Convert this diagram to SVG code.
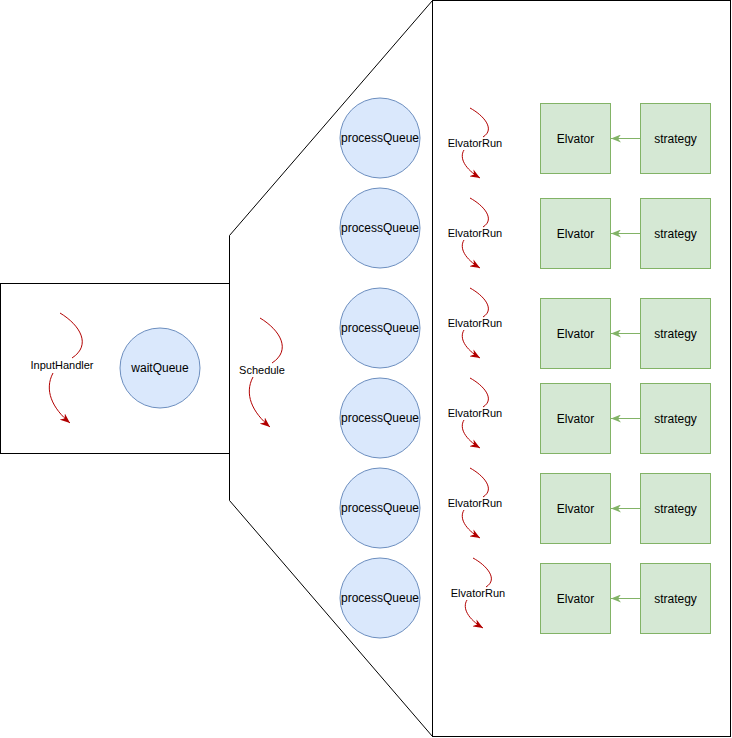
<svg xmlns="http://www.w3.org/2000/svg" width="732" height="738" viewBox="0 0 732 738">
<style>
.frame{fill:#ffffff;stroke:#000000;stroke-width:1}
.q{fill:#dae8fc;stroke:#6c8ebf;stroke-width:1}
.g{fill:#d5e8d4;stroke:#82b366;stroke-width:1}
.t{font-family:"Liberation Sans",Arial,sans-serif;font-size:12px;fill:#000000;text-anchor:middle;dominant-baseline:central}
.s{font-family:"Liberation Sans",Arial,sans-serif;font-size:11px;fill:#000000;text-anchor:middle;dominant-baseline:central}
.red{fill:none;stroke:#B20000;stroke-width:1}
.grn{fill:none;stroke:#82b366;stroke-width:1}
</style>
<defs>
<marker id="ar" viewBox="0 0 10 8" refX="10" refY="4" markerWidth="10" markerHeight="8" markerUnits="userSpaceOnUse" orient="auto">
<path d="M0,0 L10,4 L0,8 L3,4 z" fill="#B20000"/>
</marker>
<marker id="ag" viewBox="0 0 10 8" refX="10" refY="4" markerWidth="10" markerHeight="8" markerUnits="userSpaceOnUse" orient="auto">
<path d="M0,0 L10,4 L0,8 L3,4 z" fill="#82b366"/>
</marker>
</defs>

<g id="frames">
<rect id="leftBox" class="frame" x="0.5" y="283.5" width="229" height="170"/>
<polygon id="trapezoid" class="frame" points="229.5,235.5 432.5,0.5 432.5,736.5 229.5,500.5"/>
<rect id="rightBox" class="frame" x="432.5" y="0.5" width="298" height="736"/>
</g>

<g id="waitQueue"><circle class="q" cx="160" cy="368" r="40"/><text class="t" x="160" y="368">waitQueue</text></g>

<g id="processQueue1"><circle class="q" cx="380" cy="138" r="40"/><text class="t" x="380" y="138">processQueue</text></g>
<g id="processQueue2"><circle class="q" cx="380" cy="228" r="40"/><text class="t" x="380" y="228">processQueue</text></g>
<g id="processQueue3"><circle class="q" cx="380" cy="328" r="40"/><text class="t" x="380" y="328">processQueue</text></g>
<g id="processQueue4"><circle class="q" cx="380" cy="418" r="40"/><text class="t" x="380" y="418">processQueue</text></g>
<g id="processQueue5"><circle class="q" cx="380" cy="508" r="40"/><text class="t" x="380" y="508">processQueue</text></g>
<g id="processQueue6"><circle class="q" cx="380" cy="598" r="40"/><text class="t" x="380" y="598">processQueue</text></g>

<g id="elvator1"><rect class="g" x="540.5" y="103.5" width="70" height="70"/><text class="t" x="575.5" y="138.5">Elvator</text></g>
<g id="elvator2"><rect class="g" x="540.5" y="198.5" width="70" height="70"/><text class="t" x="575.5" y="233.5">Elvator</text></g>
<g id="elvator3"><rect class="g" x="540.5" y="298.5" width="70" height="70"/><text class="t" x="575.5" y="333.5">Elvator</text></g>
<g id="elvator4"><rect class="g" x="540.5" y="383.5" width="70" height="70"/><text class="t" x="575.5" y="418.5">Elvator</text></g>
<g id="elvator5"><rect class="g" x="540.5" y="473.5" width="70" height="70"/><text class="t" x="575.5" y="508.5">Elvator</text></g>
<g id="elvator6"><rect class="g" x="540.5" y="563.5" width="70" height="70"/><text class="t" x="575.5" y="598.5">Elvator</text></g>

<g id="strategy1"><rect class="g" x="640.5" y="103.5" width="70" height="70"/><text class="t" x="675.5" y="138.5">strategy</text></g>
<g id="strategy2"><rect class="g" x="640.5" y="198.5" width="70" height="70"/><text class="t" x="675.5" y="233.5">strategy</text></g>
<g id="strategy3"><rect class="g" x="640.5" y="298.5" width="70" height="70"/><text class="t" x="675.5" y="333.5">strategy</text></g>
<g id="strategy4"><rect class="g" x="640.5" y="383.5" width="70" height="70"/><text class="t" x="675.5" y="418.5">strategy</text></g>
<g id="strategy5"><rect class="g" x="640.5" y="473.5" width="70" height="70"/><text class="t" x="675.5" y="508.5">strategy</text></g>
<g id="strategy6"><rect class="g" x="640.5" y="563.5" width="70" height="70"/><text class="t" x="675.5" y="598.5">strategy</text></g>

<g id="connectors">
<path class="grn" d="M640,138.5 L611,138.5" marker-end="url(#ag)"/>
<path class="grn" d="M640,233.5 L611,233.5" marker-end="url(#ag)"/>
<path class="grn" d="M640,333.5 L611,333.5" marker-end="url(#ag)"/>
<path class="grn" d="M640,418.5 L611,418.5" marker-end="url(#ag)"/>
<path class="grn" d="M640,508.5 L611,508.5" marker-end="url(#ag)"/>
<path class="grn" d="M640,598.5 L611,598.5" marker-end="url(#ag)"/>

<g id="inputHandler">
<path class="red" d="M60,313 C80,325 92,345 72,358"/>
<path class="red" d="M53,373 C44,390 52,408 70,423" marker-end="url(#ar)"/>
<text class="s" x="62" y="365">InputHandler</text>
</g>
<g id="schedule">
<path class="red" d="M260,318 C280,330 292,350 272,363"/>
<path class="red" d="M253,377 C244,394 252,412 270,427" marker-end="url(#ar)"/>
<text class="s" x="262" y="370">Schedule</text>
</g>
<g id="elvatorRun1">
<path class="red" d="M470,108 C483,115 496,129 483,137"/>
<path class="red" d="M464,150 C459,158 465,169 480,178" marker-end="url(#ar)"/>
<text class="s" x="475" y="143">ElvatorRun</text>
</g>
<g id="elvatorRun2">
<path class="red" d="M470,198 C483,205 496,219 483,227"/>
<path class="red" d="M464,240 C459,248 465,259 480,268" marker-end="url(#ar)"/>
<text class="s" x="475" y="233">ElvatorRun</text>
</g>
<g id="elvatorRun3">
<path class="red" d="M470,288 C483,295 496,309 483,317"/>
<path class="red" d="M464,330 C459,338 465,349 480,358" marker-end="url(#ar)"/>
<text class="s" x="475" y="323">ElvatorRun</text>
</g>
<g id="elvatorRun4">
<path class="red" d="M470,378 C483,385 496,399 483,407"/>
<path class="red" d="M464,420 C459,428 465,439 480,448" marker-end="url(#ar)"/>
<text class="s" x="475" y="413">ElvatorRun</text>
</g>
<g id="elvatorRun5">
<path class="red" d="M470,468 C483,475 496,489 483,497"/>
<path class="red" d="M464,510 C459,518 465,529 480,538" marker-end="url(#ar)"/>
<text class="s" x="475" y="503">ElvatorRun</text>
</g>
<g id="elvatorRun6">
<path class="red" d="M473,558 C486,565 499,579 486,587"/>
<path class="red" d="M467,600 C462,608 468,619 483,628" marker-end="url(#ar)"/>
<text class="s" x="478" y="593">ElvatorRun</text>
</g>
</g>
</svg>
